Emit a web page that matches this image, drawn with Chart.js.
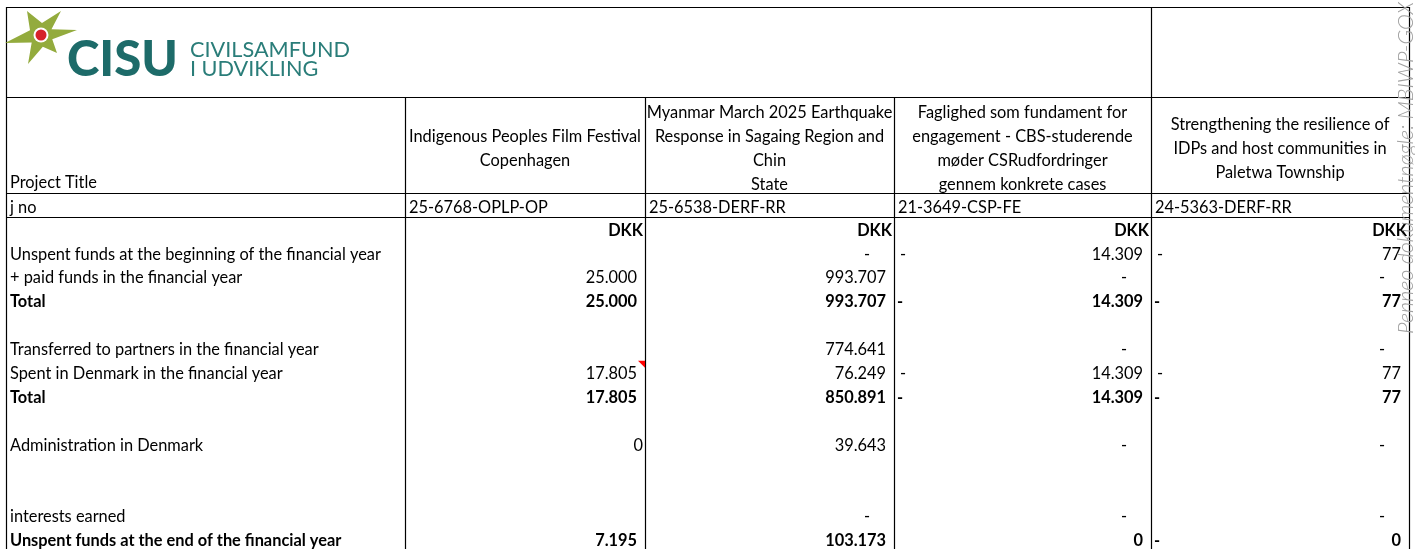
<!DOCTYPE html>
<html>
<head>
<meta charset="utf-8">
<script src="https://cdn.jsdelivr.net/npm/chart.js@4.4.1/dist/chart.umd.min.js"></script>
<style>
  html, body { margin: 0; padding: 0; background: #fff; }
  #wrap { width: 1415px; height: 549px; position: relative; overflow: hidden; }
</style>
</head>
<body>
<div id="wrap"><canvas id="sheet"></canvas></div>
<script>
// ---- sheet data ----
const rowLabels = [
    'Unspent funds at the beginning of the financial year',
    '+ paid funds in the financial year',
    'Total',
    '',
    'Transferred to partners in the financial year',
    'Spent in Denmark in the financial year',
    'Total',
    '',
    'Administration in Denmark',
    '',
    '',
    'interests earned',
    'Unspent funds at the end of the financial year'
];
const boldRows = [2, 6, 12];

const projectTitles = [
    ['Indigenous Peoples Film Festival', 'Copenhagen'],
    ['Myanmar March 2025 Earthquake', 'Response in Sagaing Region and', 'Chin', 'State'],
    ['Faglighed som fundament for', 'engagement - CBS-studerende', 'møder CSRudfordringer', 'gennem konkrete cases'],
    ['Strengthening the resilience of', 'IDPs and host communities in', 'Paletwa Township']
];
const journalNos = ['25-6768-OPLP-OP', '25-6538-DERF-RR', '21-3649-CSP-FE', '24-5363-DERF-RR'];
const currency = 'DKK';

// amounts as displayed: '' empty, '-' zero, leading '-' negative
const filmFestival = ['', '25.000', '25.000', '', '', '17.805', '17.805', '', '0', '', '', '', '7.195'];
const earthquake   = ['-', '993.707', '993.707', '', '774.641', '76.249', '850.891', '', '39.643', '', '', '-', '103.173'];
const cbsCases     = ['-14.309', '-', '-14.309', '', '-', '-14.309', '-14.309', '', '-', '', '', '-', '0'];
const paletwa      = ['-77', '-', '-77', '', '-', '-77', '-77', '', '-', '', '', '-', '-0'];
const projectValues = [filmFestival, earthquake, cbsCases, paletwa];

// ---- layout (table units == px) ----
const colEdges = [6, 405, 645, 894, 1151, 1409];
const topY = 7, titleTop = 97, titleBottom = 193, jnoBottom = 217;
const firstRowY = 230.5, rowHeight = 23.86;
const FONT = 'Lato';
let bodySize = 15;

function fitSize(ctx, text, weight, width) {
    ctx.font = weight + ' 100px ' + FONT;
    return 100 * width / ctx.measureText(text).width;
}

function drawLogo(ctx, X, Y) {
    // star
    const cx = X(41), cy = Y(35);
    const tips = [[27, 11], [61, 11], [77, 30], [57, 53], [28, 64], [5, 43]];
    ctx.fillStyle = '#93AB3D';
    ctx.beginPath();
    tips.forEach((t, i) => {
        const a = Math.atan2(t[1] - 35, t[0] - 41);
        const n = tips[(i + 1) % tips.length];
        const b = Math.atan2(n[1] - 35, n[0] - 41);
        let mid = (a + b) / 2;
        if (b < a) mid += Math.PI;
        if (i === 0) ctx.moveTo(X(t[0]), Y(t[1])); else ctx.lineTo(X(t[0]), Y(t[1]));
        ctx.lineTo(cx + Math.cos(mid) * 12, cy + Math.sin(mid) * 12);
    });
    ctx.closePath();
    ctx.fill();
    ctx.fillStyle = '#fff';
    ctx.beginPath(); ctx.arc(cx, cy, 7.5, 0, Math.PI * 2); ctx.fill();
    ctx.fillStyle = '#D6232A';
    ctx.beginPath(); ctx.arc(cx, cy, 5.5, 0, Math.PI * 2); ctx.fill();

    ctx.textAlign = 'left';
    ctx.textBaseline = 'alphabetic';
    ctx.fillStyle = '#1D6B69';
    ctx.font = '900 ' + fitSize(ctx, 'CISU', '900', 111) + 'px ' + FONT;
    ctx.fillText('CISU', X(67), Y(76));
    ctx.fillStyle = '#2A7D79';
    ctx.font = 'normal ' + fitSize(ctx, 'CIVILSAMFUND', 'normal', 160) + 'px ' + FONT;
    ctx.fillText('CIVILSAMFUND', X(190), Y(57));
    ctx.fillText('I UDVIKLING', X(190), Y(76));
}

const sheetPlugin = {
    id: 'sheetTable',
    afterDraw(chart) {
        const ctx = chart.ctx;
        const xs = chart.scales.x, ys = chart.scales.y;
        const X = v => xs.getPixelForValue(v);
        const Y = v => ys.getPixelForValue(v);
        const rowY = i => Y(firstRowY + i * rowHeight);
        ctx.save();

        bodySize = fitSize(ctx, rowLabels[0], 'normal', 371);
        const font = bold => (bold ? 'bold ' : 'normal ') + bodySize + 'px ' + FONT;

        // grid lines
        ctx.strokeStyle = '#000';
        ctx.lineWidth = 1.2;
        const hLine = y => { ctx.beginPath(); ctx.moveTo(X(colEdges[0]), Math.round(Y(y)) + 0.5); ctx.lineTo(X(colEdges[5]), Math.round(Y(y)) + 0.5); ctx.stroke(); };
        const vLine = (x, y0) => { ctx.beginPath(); ctx.moveTo(Math.round(X(x)) + 0.5, Y(y0)); ctx.lineTo(Math.round(X(x)) + 0.5, Y(549)); ctx.stroke(); };
        [topY, titleTop, titleBottom, jnoBottom].forEach(hLine);
        vLine(colEdges[0], topY);
        vLine(colEdges[4], topY);
        vLine(colEdges[5], topY);
        [1, 2, 3].forEach(i => vLine(colEdges[i], titleTop));

        drawLogo(ctx, X, Y);

        ctx.fillStyle = '#000';
        ctx.textBaseline = 'middle';

        // header rows
        ctx.font = font(false);
        ctx.textAlign = 'left';
        ctx.fillText('Project Title', X(colEdges[0] + 4), Y(182.5));
        ctx.fillText('j no', X(colEdges[0] + 4), Y(207.5));
        projectTitles.forEach((lines, p) => {
            const mid = (colEdges[p + 1] + colEdges[p + 2]) / 2;
            ctx.textAlign = 'center';
            lines.forEach((ln, k) => {
                ctx.fillText(ln, X(mid), Y(148.5 + (k - (lines.length - 1) / 2) * 24));
            });
            ctx.textAlign = 'left';
            ctx.fillText(journalNos[p], X(colEdges[p + 1] + 4), Y(207.5));
        });

        // currency row
        ctx.font = font(true);
        ctx.textAlign = 'right';
        projectValues.forEach((_, p) => ctx.fillText(currency, X(colEdges[p + 2] - 2), rowY(0)));

        // row labels
        rowLabels.forEach((lab, r) => {
            if (!lab) return;
            ctx.font = font(boldRows.includes(r));
            ctx.textAlign = 'left';
            ctx.fillText(lab, X(colEdges[0] + 4), rowY(r + 1));
        });

        // values
        projectValues.forEach((vals, p) => {
            const right = colEdges[p + 2] - 8;
            vals.forEach((v, r) => {
                if (v === '') return;
                const bold = boldRows.includes(r);
                ctx.font = font(bold);
                const y = rowY(r + 1);
                if (v === '-') {
                    ctx.textAlign = 'center';
                    ctx.fillText('-', X(right - 19), y);
                    return;
                }
                let txt = v;
                if (v.startsWith('-')) {
                    ctx.textAlign = 'center';
                    ctx.fillText('-', X(colEdges[p + 1] + (bold ? 6 : 9)), y);
                    txt = v.slice(1);
                }
                ctx.textAlign = 'right';
                // plain-format zero in the first project sits flush to the edge
                const r2 = (p === 0 && v === '0') ? colEdges[p + 2] - 2 : right;
                ctx.fillText(txt, X(r2), y);
            });
        });

        // comment marker
        const cx = X(colEdges[2]), cy = rowY(6) - 13;
        ctx.fillStyle = '#FF0000';
        ctx.beginPath();
        ctx.moveTo(cx - 7, cy); ctx.lineTo(cx, cy); ctx.lineTo(cx, cy + 7); ctx.closePath();
        ctx.fill();

        // signing watermark
        ctx.translate(X(1413), Y(334));
        ctx.rotate(-Math.PI / 2);
        ctx.fillStyle = '#A0A0A0';
        ctx.font = 'italic 300 21.5px ' + FONT;
        ctx.textAlign = 'left';
        ctx.textBaseline = 'alphabetic';
        ctx.fillText('Penneo dokumentnøgle: MBIWP-GOX', 0, 0);
        ctx.restore();
    }
};

new Chart(document.getElementById('sheet'), {
    type: 'scatter',
    data: { datasets: [] },
    options: {
        responsive: true,
        maintainAspectRatio: false,
        animation: false,
        layout: { padding: 0 },
        plugins: { legend: { display: false }, tooltip: { enabled: false } },
        scales: {
            x: { type: 'linear', min: 0, max: 1415, display: false },
            y: { type: 'linear', min: 0, max: 549, reverse: true, display: false }
        }
    },
    plugins: [sheetPlugin]
});
</script>
</body>
</html>
